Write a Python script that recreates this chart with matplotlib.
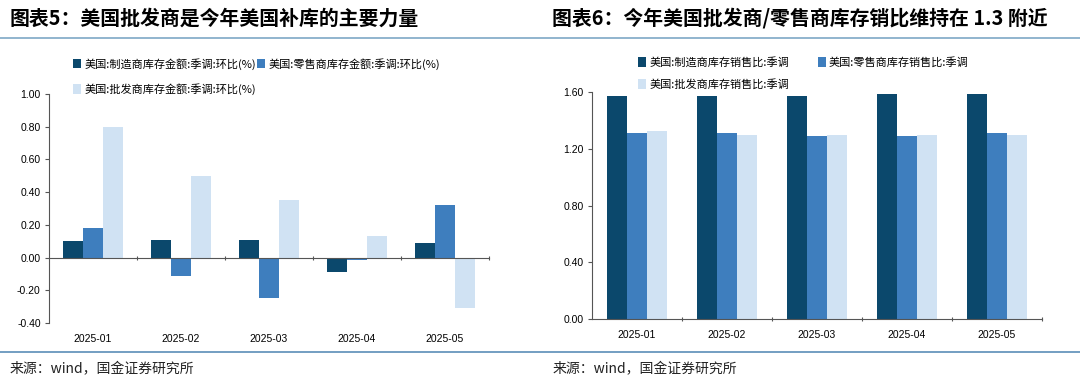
import numpy as np
import matplotlib
matplotlib.use("Agg")
import matplotlib.pyplot as plt
from matplotlib.lines import Line2D
from matplotlib.patches import Patch

plt.rcParams['font.family'] = ['Liberation Sans', 'Noto Sans CJK SC', 'DejaVu Sans']
CJK = ['Noto Sans CJK SC', 'DejaVu Sans']

months = ['2025-01', '2025-02', '2025-03', '2025-04', '2025-05']

# chart 5: inventory m/m change (%)
mfg_inv = [0.10, 0.11, 0.11, -0.09, 0.09]
retail_inv = [0.18, -0.11, -0.25, -0.015, 0.32]
whole_inv = [0.80, 0.50, 0.35, 0.13, -0.31]
names5 = ['美国:制造商库存金额:季调:环比(%)', '美国:零售商库存金额:季调:环比(%)',
          '美国:批发商库存金额:季调:环比(%)']

# chart 6: inventory / sales ratio
mfg_ratio = [1.57, 1.57, 1.57, 1.585, 1.585]
retail_ratio = [1.31, 1.31, 1.29, 1.29, 1.31]
whole_ratio = [1.325, 1.30, 1.30, 1.30, 1.30]
names6 = ['美国:制造商库存销售比:季调', '美国:零售商库存销售比:季调', '美国:批发商库存销售比:季调']

colors = ['#0b486c', '#3e7ebe', '#d0e2f3']
W, H = 1080, 383

fig = plt.figure(figsize=(W / 100, H / 100), dpi=100)


def px_axes(x0, y0, x1, y1):
    return fig.add_axes([x0 / W, 1 - y1 / H, (x1 - x0) / W, (y1 - y0) / H])


def bars(ax, series):
    x = np.arange(len(months))
    bw = 0.225
    for k, s in enumerate(series):
        ax.bar(x + (k - 1) * bw, s, bw, color=colors[k], zorder=2)
    ax.set_xlim(-0.5, len(months) - 0.5)
    ax.set_xticks(np.arange(len(months)) + 0.5)
    ax.set_xticklabels([])
    ax.tick_params(axis='x', length=3, width=0.8, color='#555555', direction='inout')
    ax.tick_params(axis='y', length=3, width=0.8, color='#555555', labelsize=7.5, pad=3)
    for sp in ['top', 'right']:
        ax.spines[sp].set_visible(False)
    for sp in ['left', 'bottom']:
        ax.spines[sp].set_color('#555555')
        ax.spines[sp].set_linewidth(0.8)
    return x


# ---- left chart
ax1 = px_axes(49, 94, 489, 323)
x = bars(ax1, [mfg_inv, retail_inv, whole_inv])
ax1.set_ylim(-0.40, 1.00)
ax1.set_yticks(np.arange(-0.4, 1.01, 0.2))
ax1.set_yticklabels(['%.2f' % v for v in np.arange(-0.4, 1.01, 0.2)])
ax1.spines['bottom'].set_position(('data', 0))
for i, m in enumerate(months):
    ax1.annotate(m, (i, -0.40), xytext=(0, -8), textcoords='offset points',
                 ha='center', va='top', fontsize=7.5)

# ---- right chart
ax2 = px_axes(592, 92, 1042, 319)
bars(ax2, [mfg_ratio, retail_ratio, whole_ratio])
ax2.set_ylim(0, 1.6)
ax2.set_yticks(np.arange(0, 1.61, 0.4))
ax2.set_yticklabels(['%.2f' % v for v in np.arange(0, 1.61, 0.4)])
for i, m in enumerate(months):
    ax2.annotate(m, (i, 0), xytext=(0, -8), textcoords='offset points',
                 ha='center', va='top', fontsize=7.5)

# legends (row order: 1, 2 / 3)
def legend(names, x0, y0, spacing, rowgap):
    h = [Patch(facecolor=c, edgecolor='none') for c in colors]
    order = [0, 2, 1]
    fig.legend([h[i] for i in order], [names[i] for i in order], loc='upper left',
               bbox_to_anchor=(x0 / W, 1 - y0 / H),
               ncol=2, frameon=False, prop={'family': CJK, 'size': 8},
               handlelength=0.7, handleheight=0.9, handletextpad=0.3,
               columnspacing=spacing, labelspacing=rowgap, borderpad=0, borderaxespad=0)

legend(names5, 73, 58, 0.15, 1.2)
legend(names6, 638, 57, 2.6, 1.0)

# titles and rules
fig.text(10 / W, 1 - 18 / H, '图表5：美国批发商是今年美国补库的主要力量', fontsize=14.3,
         fontweight='bold', family=CJK, va='center', ha='left')
fig.text(552 / W, 1 - 18 / H, '图表6：今年美国批发商/零售商库存销比维持在 1.3 附近', fontsize=14.3,
         fontweight='bold', family=CJK, va='center', ha='left')
fig.add_artist(Line2D([0, 1], [1 - 37.5 / H] * 2, color='#7ea8c6', lw=1.2))
fig.add_artist(Line2D([0, 1], [1 - 352 / H] * 2, color='#5b8db8', lw=1.2))
fig.text(10 / W, 1 - 369 / H, '来源：wind，国金证券研究所', fontsize=10, family=CJK,
         va='center', ha='left', color='#222222')
fig.text(553 / W, 1 - 369 / H, '来源：wind，国金证券研究所', fontsize=10, family=CJK,
         va='center', ha='left', color='#222222')

fig.savefig('out.png', dpi=100)
